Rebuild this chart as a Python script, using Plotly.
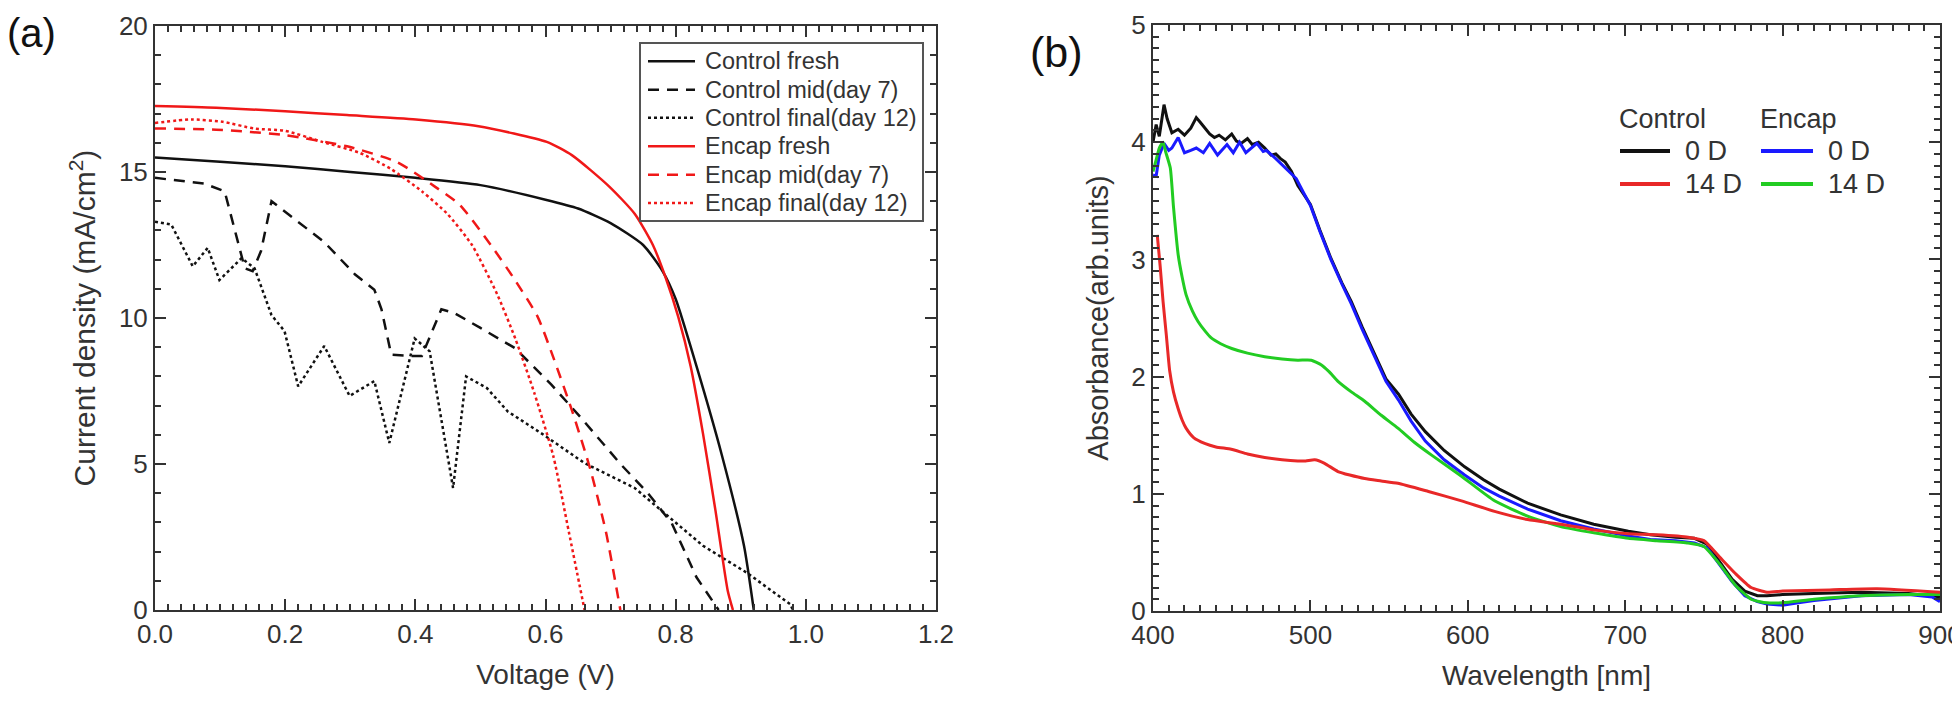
import plotly.graph_objects as go

# ---------------- Panel (a): J-V curves ----------------
v_ctrl_fresh = [0, 0.1, 0.2, 0.3, 0.4, 0.5, 0.6, 0.65, 0.7, 0.75, 0.78, 0.8, 0.832, 0.871, 0.905, 0.92]
j_ctrl_fresh = [15.5, 15.35, 15.2, 15.0, 14.8, 14.55, 14.05, 13.75, 13.25, 12.5, 11.6, 10.65, 8.35, 5.3, 2.2, 0]

v_ctrl_mid = [0, 0.076, 0.107, 0.128, 0.138, 0.15, 0.163, 0.179, 0.23, 0.26, 0.307, 0.337, 0.348, 0.363,
              0.394, 0.41, 0.44, 0.46, 0.50, 0.553, 0.609, 0.655, 0.716, 0.756, 0.794, 0.832, 0.866]
j_ctrl_mid = [14.8, 14.6, 14.34, 12.6, 11.7, 11.6, 12.3, 14.0, 13.1, 12.6, 11.5, 10.97, 10.3, 8.74,
              8.7, 8.7, 10.3, 10.17, 9.66, 8.97, 7.72, 6.57, 4.98, 4.04, 2.97, 1.12, 0]

v_ctrl_final = [0.0, 0.025, 0.058, 0.081, 0.099, 0.133, 0.153, 0.179, 0.199, 0.22, 0.26, 0.299, 0.337,
                0.36, 0.399, 0.422, 0.458, 0.478, 0.51, 0.542, 0.593, 0.66, 0.737, 0.842, 0.909, 0.976, 0.98]
j_ctrl_final = [13.3, 13.2, 11.77, 12.4, 11.3, 12.05, 11.7, 10.1, 9.55, 7.66, 9.04, 7.33, 7.84,
                5.72, 9.3, 8.86, 4.18, 8.0, 7.6, 6.8, 6.06, 5.03, 4.18, 2.2, 1.28, 0.2, 0]

v_enc_fresh = [0, 0.094, 0.2, 0.295, 0.401, 0.497, 0.602, 0.641, 0.698, 0.737, 0.765, 0.784, 0.804,
               0.823, 0.842, 0.861, 0.880, 0.888]
j_enc_fresh = [17.26, 17.2, 17.08, 16.95, 16.8, 16.57, 16.03, 15.57, 14.5, 13.57, 12.5, 11.42, 10.04,
               8.35, 6.04, 3.43, 0.66, 0]

v_enc_mid = [0, 0.094, 0.2, 0.295, 0.372, 0.43, 0.468, 0.516, 0.554, 0.588, 0.612, 0.641, 0.669, 0.693, 0.715]
j_enc_mid = [16.49, 16.45, 16.26, 15.88, 15.34, 14.5, 13.88, 12.5, 11.27, 10.04, 8.65, 6.81, 4.81, 2.66, 0]

v_enc_final = [0, 0.056, 0.104, 0.152, 0.2, 0.257, 0.315, 0.362, 0.41, 0.449, 0.487, 0.526, 0.554,
               0.583, 0.612, 0.636, 0.66]
j_enc_final = [16.68, 16.8, 16.72, 16.49, 16.41, 16.03, 15.65, 15.11, 14.34, 13.57, 12.5, 10.8, 9.27,
               7.42, 5.27, 2.66, 0]

# ---------------- Panel (b): absorbance ----------------
wl_ctrl_0 = [400, 402, 404, 407, 409, 412, 416, 420, 424, 427.5, 430, 433, 436, 439, 442, 446, 450, 453,
             456, 460, 463, 467, 471, 475, 478, 481, 484, 488, 492, 496, 500, 506, 513, 520, 526, 533,
             541, 548, 556, 564, 573, 585, 598, 610, 620, 638, 659, 680, 702, 716, 732, 744, 752, 760,
             768, 776, 784, 790, 800, 820, 850, 880, 900]
ab_ctrl_0 = [4.0, 4.15, 4.05, 4.32, 4.2, 4.08, 4.11, 4.06, 4.12, 4.21, 4.17, 4.12, 4.07, 4.04, 4.06, 4.02,
             4.07, 4.01, 3.99, 4.03, 3.98, 4.0, 3.95, 3.89, 3.9, 3.86, 3.83, 3.75, 3.63, 3.55, 3.47, 3.25,
             3.01, 2.8, 2.64, 2.42, 2.19, 1.98, 1.85, 1.68, 1.53, 1.37, 1.23, 1.12, 1.04, 0.92, 0.82, 0.74,
             0.68, 0.65, 0.63, 0.62, 0.57, 0.42, 0.27, 0.17, 0.13, 0.13, 0.14, 0.15, 0.16, 0.15, 0.12]

wl_ctrl_14 = [402.7, 404.5, 406.4, 408.5, 410.6, 413, 415.9, 418.5, 421, 425.8, 432.8, 440, 449.7, 460,
              471, 482, 492, 497, 502.7, 509, 517.5, 525, 534.5, 545, 555.6, 575, 596, 617, 638, 659,
              681, 702, 720, 740, 750, 760, 770, 780, 790, 800, 830, 860, 900]
ab_ctrl_14 = [3.21, 2.95, 2.64, 2.35, 2.05, 1.87, 1.73, 1.63, 1.56, 1.48, 1.43, 1.40, 1.38, 1.34, 1.31,
              1.29, 1.28, 1.28, 1.29, 1.26, 1.19, 1.16, 1.13, 1.11, 1.09, 1.02, 0.94, 0.85, 0.78, 0.74,
              0.69, 0.66, 0.65, 0.63, 0.6, 0.46, 0.32, 0.2, 0.16, 0.17, 0.18, 0.19, 0.16]

wl_enc_0 = [400, 402, 404, 407, 410, 412, 416, 420, 424, 427.5, 432, 436, 441, 447, 451, 455, 459, 463,
            466, 470, 472, 478, 485, 491, 496, 500, 506, 513, 520, 526, 533, 541, 548, 556, 564, 573,
            585, 598, 610, 620, 638, 659, 680, 702, 716, 732, 744, 752, 760, 768, 776, 784, 790, 800,
            810, 820, 850, 880, 895, 900]
ab_enc_0 = [3.72, 3.71, 3.89, 3.99, 3.93, 3.95, 4.04, 3.91, 3.93, 3.95, 3.91, 3.99, 3.89, 3.98, 3.91, 4.0,
            3.91, 3.96, 3.99, 3.92, 3.93, 3.86, 3.77, 3.69, 3.56, 3.46, 3.24, 3.0, 2.79, 2.62, 2.4, 2.16,
            1.96, 1.8, 1.62, 1.45, 1.29, 1.16, 1.05, 0.98, 0.87, 0.77, 0.7, 0.64, 0.61, 0.6, 0.58, 0.54,
            0.4, 0.25, 0.13, 0.08, 0.06, 0.05, 0.07, 0.09, 0.13, 0.14, 0.12, 0.08]

wl_enc_14 = [400, 402, 404, 406.4, 408, 411, 413, 416, 418.5, 421, 425, 428.6, 433, 437, 443, 450, 460,
             471, 482, 492, 500.6, 507, 512, 517.5, 526, 534.5, 545, 555.6, 566, 577, 596, 617, 638,
             659, 681, 702, 720, 740, 750, 760, 770, 780, 790, 800, 820, 850, 880, 900]
ab_enc_14 = [3.75, 3.85, 3.95, 4.0, 3.92, 3.78, 3.45, 3.04, 2.85, 2.7, 2.56, 2.47, 2.39, 2.33, 2.28, 2.24,
             2.2, 2.17, 2.15, 2.14, 2.14, 2.10, 2.04, 1.96, 1.87, 1.79, 1.67, 1.56, 1.44, 1.33, 1.15, 0.94,
             0.81, 0.72, 0.665, 0.62, 0.60, 0.58, 0.55, 0.4, 0.22, 0.1, 0.07, 0.07, 0.1, 0.13, 0.14, 0.14]

legend_labels_a = ["Control fresh", "Control mid(day 7)", "Control final(day 12)",
                   "Encap fresh", "Encap mid(day 7)", "Encap final(day 12)"]
legend_headers_b = ["Control", "Encap"]
legend_labels_b = ["0 D", "14 D"]
panel_labels = ["(a)", "(b)"]

FONT = "Liberation Sans, Arial, sans-serif"
TXT = "#333333"
BLACK = "#111111"
RED_A = "#f01818"
RED_B = "#e82828"
BLUE = "#1a1aff"
GREEN = "#22cc22"

W, H = 1960, 702


def px(x):
    return x / W


def py(y):
    return 1 - y / H


styles_a = [
    dict(color=BLACK, dash="solid"),
    dict(color=BLACK, dash="11px,8px"),
    dict(color=BLACK, dash="3px,3px"),
    dict(color=RED_A, dash="solid"),
    dict(color=RED_A, dash="11px,8px"),
    dict(color=RED_A, dash="3px,3px"),
]
series_a = [(v_ctrl_fresh, j_ctrl_fresh, True), (v_ctrl_mid, j_ctrl_mid, False),
            (v_ctrl_final, j_ctrl_final, False), (v_enc_fresh, j_enc_fresh, True),
            (v_enc_mid, j_enc_mid, True), (v_enc_final, j_enc_final, True)]

fig = go.Figure()

for (xs, ys, smooth), name, st in zip(series_a, legend_labels_a, styles_a):
    line = dict(color=st["color"], width=2.5, dash=st["dash"])
    if smooth:
        line.update(shape="spline", smoothing=0.6)
    fig.add_trace(go.Scatter(x=xs, y=ys, mode="lines", name=name, line=line,
                             xaxis="x", yaxis="y", showlegend=False))

series_b = [(wl_ctrl_0, ab_ctrl_0, BLACK, "Control 0 D", False),
            (wl_enc_0, ab_enc_0, BLUE, "Encap 0 D", False),
            (wl_enc_14, ab_enc_14, GREEN, "Encap 14 D", True),
            (wl_ctrl_14, ab_ctrl_14, RED_B, "Control 14 D", True)]
for xs, ys, col, name, smooth in series_b:
    line = dict(color=col, width=3)
    if smooth:
        line.update(shape="spline", smoothing=0.5)
    fig.add_trace(go.Scatter(x=xs, y=ys, mode="lines", name=name, line=line,
                             xaxis="x2", yaxis="y2", showlegend=False))

axis_common = dict(
    showline=True, linecolor="#333333", linewidth=2, mirror="allticks",
    ticks="inside", ticklen=11, tickwidth=2, tickcolor="#333333",
    showgrid=False, zeroline=False, automargin=False,
    tickfont=dict(family=FONT, size=26, color=TXT),
    title_font=dict(family=FONT, size=28, color=TXT),
)
minor_common = dict(ticks="inside", ticklen=6, tickwidth=2, tickcolor="#333333")

shapes = []
annotations = []

# manual legend, panel (a)
shapes.append(dict(type="rect", xref="paper", yref="paper", x0=px(632), x1=px(915), y0=py(213), y1=py(35),
                   line=dict(color="#555555", width=2), fillcolor="white", layer="above"))
rows_a = [53.3, 81.7, 109.8, 138.3, 166.7, 195.0]
for row, name, st in zip(rows_a, legend_labels_a, styles_a):
    shapes.append(dict(type="line", xref="paper", yref="paper", x0=px(640), x1=px(687), y0=py(row), y1=py(row),
                       line=dict(color=st["color"], width=2.5, dash=st["dash"]), layer="above"))
    annotations.append(dict(text=name, x=px(695), y=py(row), xref="paper", yref="paper", xanchor="left",
                            yanchor="middle", showarrow=False, font=dict(family=FONT, size=23.5, color=TXT)))

# manual legend, panel (b)
cols_b = [(1612, 1662, 1675, legend_headers_b[0], [BLACK, RED_B]),
          (1753, 1805, 1818, legend_headers_b[1], [BLUE, GREEN])]
rows_b = [143, 176]
for x0, x1, xt, header, colors in cols_b:
    annotations.append(dict(text=header, x=px(x0 - 3), y=py(111), xref="paper", yref="paper", xanchor="left",
                            yanchor="middle", showarrow=False, font=dict(family=FONT, size=27, color=TXT)))
    for row, lab, col in zip(rows_b, legend_labels_b, colors):
        shapes.append(dict(type="line", xref="paper", yref="paper", x0=px(x0), x1=px(x1), y0=py(row), y1=py(row),
                           line=dict(color=col, width=4), layer="above"))
        annotations.append(dict(text=lab, x=px(xt), y=py(row), xref="paper", yref="paper", xanchor="left",
                                yanchor="middle", showarrow=False, font=dict(family=FONT, size=27, color=TXT)))

annotations.append(dict(text=panel_labels[0], x=px(-3), y=py(25), xref="paper", yref="paper", xanchor="left",
                        yanchor="middle", showarrow=False, font=dict(family=FONT, size=40, color="#111111")))
annotations.append(dict(text=panel_labels[1], x=px(1020), y=py(44), xref="paper", yref="paper", xanchor="left",
                        yanchor="middle", showarrow=False, font=dict(family=FONT, size=43, color="#111111")))

fig.update_layout(
    width=W, height=H,
    margin=dict(l=0, r=0, t=0, b=0, autoexpand=False),
    paper_bgcolor="white", plot_bgcolor="white",
    showlegend=False,
    xaxis=dict(axis_common, domain=[px(147), px(928)], range=[0, 1.2], dtick=0.2, tickformat=".1f",
               minor=dict(minor_common, dtick=0.02),
               title=dict(text="Voltage (V)", standoff=16), anchor="y"),
    yaxis=dict(axis_common, domain=[py(602), py(18)], range=[0, 20], dtick=5,
               minor=dict(minor_common, dtick=1),
               title=dict(text="Current density (mA/cm<sup>2</sup>)", standoff=14,
                          font=dict(family=FONT, size=30, color=TXT)), anchor="x"),
    xaxis2=dict(axis_common, domain=[px(1145), px(1932)], range=[400, 900], dtick=100,
                minor=dict(minor_common, dtick=10),
                title=dict(text="Wavelength [nm]", standoff=16), anchor="y2"),
    yaxis2=dict(axis_common, domain=[py(603), py(17)], range=[0, 5], dtick=1,
                minor=dict(minor_common, dtick=0.1),
                title=dict(text="Absorbance(arb.units)", standoff=14,
                           font=dict(family=FONT, size=29, color=TXT)), anchor="x2"),
    shapes=shapes,
    annotations=annotations,
)

fig.write_html("out.html")
